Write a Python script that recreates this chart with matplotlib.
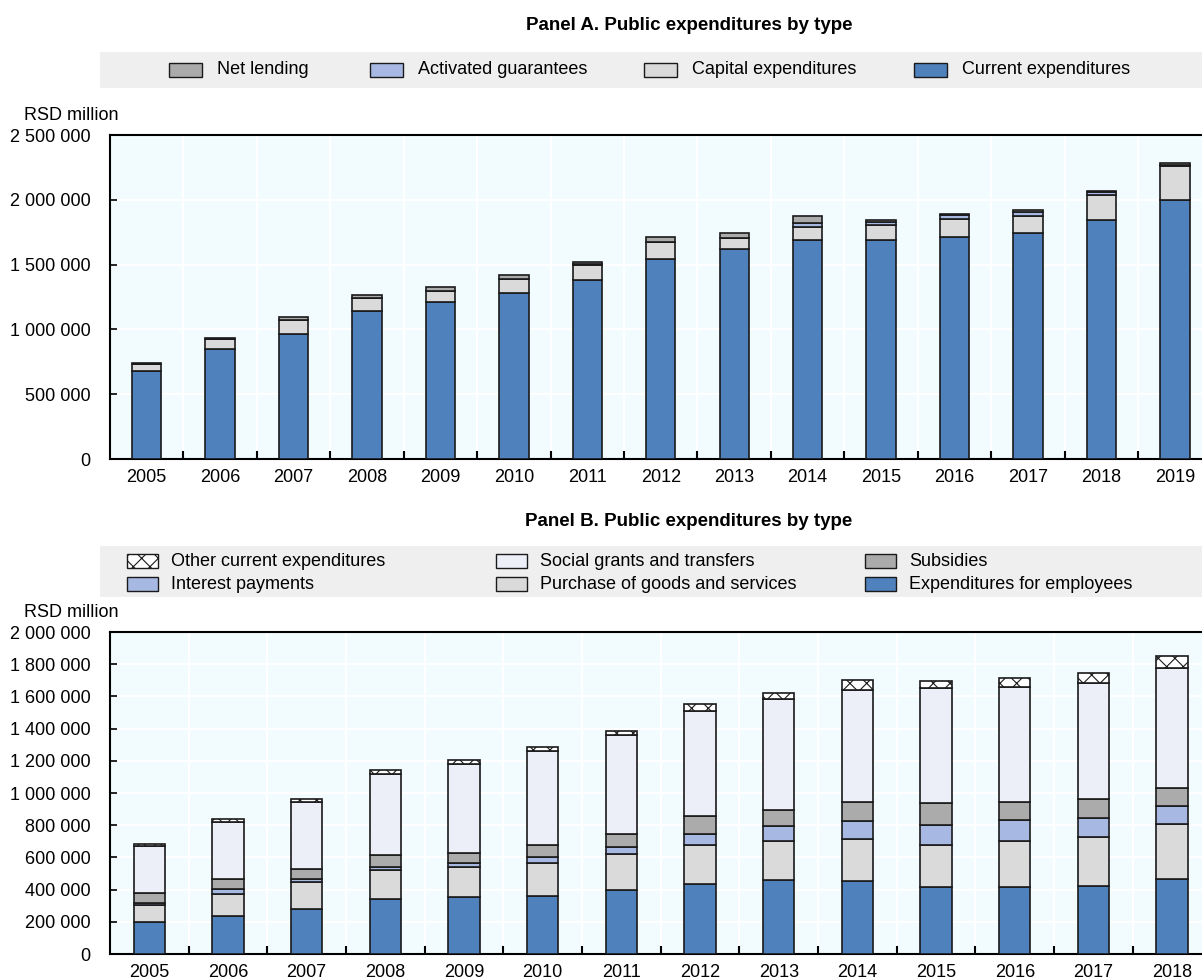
import numpy as np
import matplotlib
matplotlib.use("Agg")
import matplotlib.pyplot as plt
from matplotlib.patches import Rectangle
from matplotlib.ticker import FuncFormatter, FixedLocator

plt.rcParams['font.family'] = ['Liberation Sans Narrow', 'Liberation Sans', 'DejaVu Sans']
plt.rcParams['hatch.linewidth'] = 0.8

# Panel A (RSD million)
years_a = [str(y) for y in range(2005, 2020)]
current = [682000, 846000, 962000, 1139000, 1209000, 1283000, 1381000, 1543000,
           1618000, 1690000, 1692000, 1713000, 1741000, 1842000, 1998000]
capital = [51000, 77000, 110000, 103000, 87000, 103000, 119000, 129000,
           87000, 98000, 114000, 136000, 134000, 198000, 263000]
guarantees = [0, 0, 3000, 4000, 4000, 4000, 4000, 3000,
              3000, 30000, 25000, 34000, 28000, 18000, 5000]
net_lending = [5000, 13000, 18000, 22000, 27000, 32000, 19000, 41000,
               38000, 57000, 11000, 10000, 16000, 12000, 21000]

# Panel B (RSD million)
years_b = [str(y) for y in range(2005, 2019)]
employees = [199000, 238000, 278000, 342000, 356000, 363000, 398000, 437000,
             460000, 454000, 417000, 417000, 425000, 466000]
purchase = [108000, 135000, 168000, 180000, 183000, 201000, 222000, 241000,
            240000, 259000, 257000, 283000, 300000, 344000]
interest = [10000, 31000, 22000, 21000, 25000, 39000, 43000, 66000,
            96000, 114000, 128000, 131000, 121000, 108000]
subsidies = [62000, 60000, 63000, 73000, 64000, 75000, 81000, 114000,
             99000, 120000, 137000, 114000, 114000, 110000]
social = [291000, 357000, 410000, 499000, 555000, 580000, 614000, 653000,
          688000, 694000, 711000, 715000, 725000, 748000]
other = [11000, 20000, 21000, 25000, 25000, 25000, 29000, 39000,
         38000, 58000, 47000, 56000, 60000, 73000]

BLUE = '#4F81BD'
LGREY = '#DADADA'
LBLUE = '#A7B8E3'
GREY = '#ABABAB'
PALE = '#ECEFF8'
BG = '#F2FCFF'

W, H = 1202, 980
fig = plt.figure(figsize=(W / 100, H / 100), dpi=100)


def fx(px):
    return px / W


def fy(py):
    return 1 - py / H


def style_axes(ax, n, ymax, step, right):
    ax.set_facecolor(BG)
    ax.set_xlim(-0.5, right)
    ax.set_ylim(0, ymax)
    ax.set_xticks(np.arange(n))
    ax.xaxis.set_minor_locator(FixedLocator(np.arange(n) + 0.5))
    ax.set_yticks(np.arange(0, ymax + 1, step))
    ax.yaxis.set_major_formatter(FuncFormatter(lambda v, p: f"{int(v):,}".replace(",", " ")))
    ax.tick_params(axis='x', which='major', length=0, pad=7, labelsize=13)
    ax.tick_params(axis='x', which='minor', direction='in', length=6, width=1.5, color='black')
    ax.tick_params(axis='y', direction='in', length=5, width=1.2, pad=14, labelsize=13)
    ax.grid(True, axis='y', color='white', lw=1.5)
    ax.grid(True, axis='x', which='minor', color='white', lw=1.5)
    ax.set_axisbelow(True)
    for s in ['top', 'bottom', 'left']:
        ax.spines[s].set_linewidth(1.5)
        ax.spines[s].set_color('black')
    ax.spines['right'].set_visible(False)


def stack(ax, x, series, colors, hatches=None):
    bottom = np.zeros(len(x))
    for i, (vals, c) in enumerate(zip(series, colors)):
        h = hatches[i] if hatches else None
        ax.bar(x, vals, 0.4, bottom=bottom, color=c, edgecolor='#1a1a1a',
               linewidth=1.2, hatch=h, zorder=3)
        bottom = bottom + np.array(vals)


# ---- Panel A ----
axA = fig.add_axes([fx(110), fy(459), fx(1202 - 110), (459 - 135) / H])
xa = np.arange(len(years_a))
stack(axA, xa, [current, capital, guarantees, net_lending], [BLUE, LGREY, LBLUE, GREY])
style_axes(axA, len(years_a), 2500000, 500000, 14.37)
axA.set_xticklabels(years_a)

fig.text(fx(689), fy(25), 'Panel A. Public expenditures by type', ha='center', va='center',
         fontsize=13.5, fontweight='bold')
fig.text(fx(119), fy(115), 'RSD million', ha='right', va='center', fontsize=13)

fig.patches.append(Rectangle((fx(100), fy(88)), fx(1102), (88 - 52) / H,
                             transform=fig.transFigure, facecolor='#EFEFEF', edgecolor='none'))
leg_a = [('Net lending', GREY, 169), ('Activated guarantees', LBLUE, 370),
         ('Capital expenditures', LGREY, 644), ('Current expenditures', BLUE, 914)]
for lab, col, x0 in leg_a:
    fig.patches.append(Rectangle((fx(x0), fy(77)), fx(33), 14 / H, transform=fig.transFigure,
                                 facecolor=col, edgecolor='#1a1a1a', lw=1.0))
    fig.text(fx(x0 + 48), fy(70), lab, ha='left', va='center', fontsize=13)

# ---- Panel B ----
axB = fig.add_axes([fx(110), fy(954), fx(1202 - 110), (954 - 632) / H])
xb = np.arange(len(years_b))
stack(axB, xb, [employees, purchase, interest, subsidies, social, other],
      [BLUE, LGREY, LBLUE, GREY, PALE, 'white'],
      hatches=[None, None, None, None, None, 'xx'])
style_axes(axB, len(years_b), 2000000, 200000, 13.38)
axB.set_xticklabels(years_b)

fig.text(fx(689), fy(521), 'Panel B. Public expenditures by type', ha='center', va='center',
         fontsize=13.5, fontweight='bold')
fig.text(fx(119), fy(612), 'RSD million', ha='right', va='center', fontsize=13)

fig.patches.append(Rectangle((fx(100), fy(597)), fx(1102), (597 - 546) / H,
                             transform=fig.transFigure, facecolor='#EFEFEF', edgecolor='none'))
leg_b = [('Other current expenditures', 'white', 'xx', 127, 561),
         ('Social grants and transfers', PALE, None, 496, 561),
         ('Subsidies', GREY, None, 865, 561),
         ('Interest payments', LBLUE, None, 127, 584),
         ('Purchase of goods and services', LGREY, None, 496, 584),
         ('Expenditures for employees', BLUE, None, 865, 584)]
for lab, col, hat, x0, yc in leg_b:
    fig.patches.append(Rectangle((fx(x0), fy(yc + 7)), fx(31), 14 / H, transform=fig.transFigure,
                                 facecolor=col, edgecolor='#1a1a1a', lw=1.0, hatch=hat))
    fig.text(fx(x0 + 44), fy(yc), lab, ha='left', va='center', fontsize=13)

fig.savefig('out.png', dpi=100)
